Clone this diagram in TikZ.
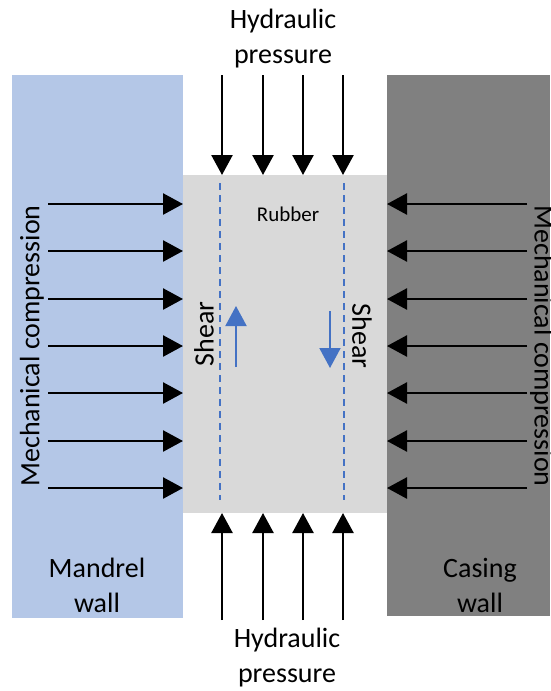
\documentclass[tikz,border=0pt]{standalone}
\usepackage{fontspec}
\setmainfont{Carlito}
\usepackage{tikz}
\usetikzlibrary{arrows.meta}
\definecolor{mandrelblue}{HTML}{B4C7E7}
\definecolor{casinggray}{HTML}{808080}
\definecolor{rubbergray}{HTML}{D9D9D9}
\definecolor{shearblue}{HTML}{4472C4}
\tikzset{
	block/.style={inner sep=0pt, outer sep=0pt, draw=none},
	lbl/.style={font=\fontsize{28}{35}\selectfont, align=center, inner sep=0pt},
	push/.style={line width=2.5pt, -{Triangle[width=21pt,length=20pt]}},
	shear/.style={line width=2pt, shearblue, -{Triangle[width=21pt,length=20pt]}},
	slip/.style={line width=2pt, shearblue, dash pattern=on 7pt off 5pt}
}

\begin{document}
\begin{tikzpicture}[x=1pt,y=-1pt]
	\useasboundingbox (0,0) rectangle (550,691);
	% walls and rubber
	\node[block, fill=mandrelblue, minimum width=171pt, minimum height=543pt] (mandrel) at (97.5,346.5) {};
	\node[block, fill=casinggray, minimum width=163pt, minimum height=541pt] (casing) at (468.5,345.5) {};
	\node[block, fill=rubbergray, minimum width=204pt, minimum height=338pt] (rubber) at (285,344) {};
	\node[lbl, font=\fontsize{21}{25}\selectfont] (rub) at (288,214) {Rubber};
	\node[lbl] (mw) at (97,585) {Mandrel\\wall};
	\node[lbl] (cw) at (480,585) {Casing\\wall};
	\node[lbl] (hptop) at (283,39) {Hydraulic\\pressure};
	\node[lbl] (hpbot) at (287,658) {Hydraulic\\pressure};
	\node[lbl, rotate=90] (mcl) at (32,346) {Mechanical compression};
	\node[lbl, rotate=-90] (mcr) at (542,346) {Mechanical compression};
	\node[lbl, rotate=90] (shl) at (204,334) {Shear};
	\node[lbl, rotate=-90] (shr) at (362,336) {Shear};
		% hydraulic pressure, top and bottom
		\coordinate (t1) at (222,75);
		\coordinate (t2) at (263,75);
		\coordinate (t3) at (303,75);
		\coordinate (t4) at (343,75);
		\coordinate (b1) at (222,620);
		\coordinate (b2) at (263,620);
		\coordinate (b3) at (303,620);
		\coordinate (b4) at (343,620);
		\draw[push] (t1) to (t1 |- rubber.north);
		\draw[push] (t2) to (t2 |- rubber.north);
		\draw[push] (t3) to (t3 |- rubber.north);
		\draw[push] (t4) to (t4 |- rubber.north);
		\draw[push] (b1) to (b1 |- rubber.south);
		\draw[push] (b2) to (b2 |- rubber.south);
		\draw[push] (b3) to (b3 |- rubber.south);
		\draw[push] (b4) to (b4 |- rubber.south);
			% mechanical compression, left and right
			\coordinate (l1) at (48,204);
			\coordinate (l2) at (48,251);
			\coordinate (l3) at (48,299);
			\coordinate (l4) at (48,346);
			\coordinate (l5) at (48,393);
			\coordinate (l6) at (48,441);
			\coordinate (l7) at (48,488);
			\coordinate (r1) at (527,204);
			\coordinate (r2) at (527,251);
			\coordinate (r3) at (527,299);
			\coordinate (r4) at (527,346);
			\coordinate (r5) at (527,393);
			\coordinate (r6) at (527,441);
			\coordinate (r7) at (527,488);
			\draw[push] (l1) to (l1 -| rubber.west);
			\draw[push] (l2) to (l2 -| rubber.west);
			\draw[push] (l3) to (l3 -| rubber.west);
			\draw[push] (l4) to (l4 -| rubber.west);
			\draw[push] (l5) to (l5 -| rubber.west);
			\draw[push] (l6) to (l6 -| rubber.west);
			\draw[push] (l7) to (l7 -| rubber.west);
			\draw[push] (r1) to (r1 -| casing.west);
			\draw[push] (r2) to (r2 -| casing.west);
			\draw[push] (r3) to (r3 -| casing.west);
			\draw[push] (r4) to (r4 -| casing.west);
			\draw[push] (r5) to (r5 -| casing.west);
			\draw[push] (r6) to (r6 -| casing.west);
			\draw[push] (r7) to (r7 -| casing.west);
	% shear planes
	\coordinate (sl1) at (220,183);
	\coordinate (sl2) at (220,500);
	\coordinate (sr1) at (344,183);
	\coordinate (sr2) at (344,500);
	\draw[slip] (sl1) to (sl2);
	\draw[slip] (sr1) to (sr2);
	\coordinate (up1) at (236,367);
	\coordinate (up2) at (236,306);
	\coordinate (dn1) at (330,311);
	\coordinate (dn2) at (330,368);
	\draw[shear] (up1) to (up2);
	\draw[shear] (dn1) to (dn2);
\end{tikzpicture}
\end{document}
